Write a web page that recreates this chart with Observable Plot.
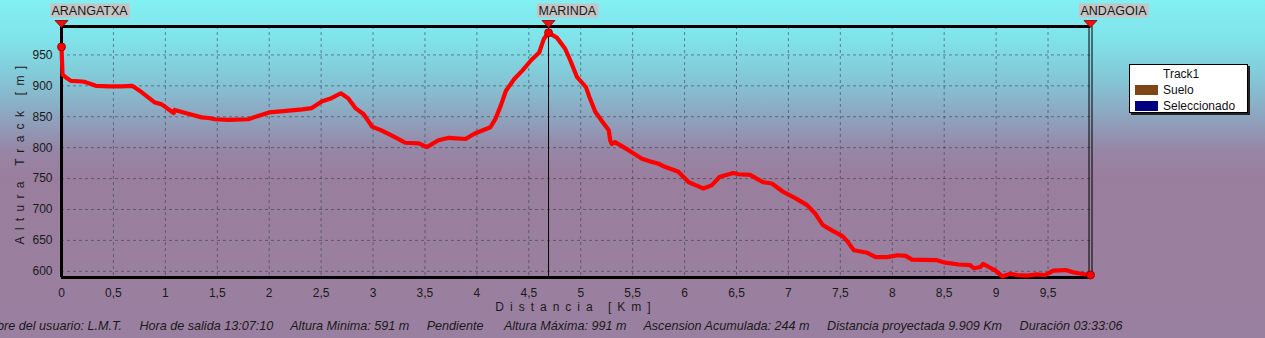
<!DOCTYPE html>
<html>
<head>
<meta charset="utf-8">
<script src="https://cdn.jsdelivr.net/npm/d3@7"></script>
<script src="https://cdn.jsdelivr.net/npm/@observablehq/plot@0.6"></script>
<style>
  html, body { margin: 0; padding: 0; }
  body {
    width: 1265px; height: 338px; overflow: hidden; position: relative;
    font-family: "Liberation Sans", Arial, sans-serif;
    background: linear-gradient(to bottom, #82F0F2 0px, #80E2EA 40px, #84C6D6 80px, #8DA6C0 115px, #9786A6 150px, #9A7E9E 178px, #9A80A0 338px);
  }
  #chart { position: absolute; left: 0; top: 0; }
  #chart svg { overflow: visible; }
  #legend {
    position: absolute; left: 1129px; top: 64px; width: 117px; height: 47px;
    background: #fff; border: 1px solid #000; box-shadow: 2px 2px 0 #222;
    font-size: 12px; color: #111;
  }
  #legend .row { position: absolute; left: 0; height: 16px; line-height: 16px; }
  #legend .sw { position: absolute; left: 5px; top: 3px; width: 23px; height: 10px; }
  #legend .lb { position: absolute; left: 33px; top: 0; white-space: nowrap; }
</style>
</head>
<body>
<div id="chart"></div>
<div id="legend"></div>
<script>
// ---- data ----
const distKm = [0, 0.01, 0.04, 0.09, 0.2, 0.23, 0.33, 0.455, 0.58, 0.68, 0.77, 0.9, 0.965, 1.08, 1.09, 1.22, 1.35, 1.415, 1.48, 1.61, 1.8, 1.87, 2.0, 2.19, 2.32, 2.41, 2.51, 2.6, 2.69, 2.76, 2.83, 2.91, 2.99, 3.08, 3.21, 3.31, 3.44, 3.52, 3.63, 3.73, 3.89, 3.98, 4.13, 4.18, 4.23, 4.28, 4.36, 4.44, 4.52, 4.6, 4.645, 4.69, 4.77, 4.85, 4.9, 4.965, 5.05, 5.09, 5.14, 5.2, 5.27, 5.285, 5.3, 5.33, 5.46, 5.59, 5.685, 5.75, 5.81, 5.94, 6.04, 6.14, 6.18, 6.26, 6.34, 6.47, 6.52, 6.63, 6.76, 6.84, 6.955, 7.07, 7.18, 7.26, 7.33, 7.41, 7.52, 7.57, 7.63, 7.76, 7.84, 7.95, 8.05, 8.13, 8.19, 8.43, 8.51, 8.64, 8.75, 8.785, 8.85, 8.875, 8.93, 8.995, 9.06, 9.14, 9.2, 9.3, 9.39, 9.47, 9.55, 9.67, 9.75, 9.82, 9.909];
const altM = [963, 918, 914, 908, 907, 906, 900, 899, 899, 900, 890, 873, 870, 856, 861, 855, 849, 848, 846, 845, 846, 850, 857, 860, 862, 864, 875, 880, 888, 880, 864, 854, 834, 828, 817, 808, 807, 801, 812, 816, 814, 823, 833, 847, 868, 892, 911, 925, 941, 954, 976, 986, 978, 960, 941, 914, 898, 879, 858, 844, 828, 811, 806, 809, 796, 782, 777, 774, 769, 761, 744, 737, 734, 739, 753, 759, 757, 756, 744, 742, 728, 718, 707, 693, 675, 667, 657, 648, 634, 630, 623, 623, 626, 625, 619, 618, 614, 611, 610, 605, 607, 612, 607, 601, 592, 596, 594, 593, 595, 594, 601, 602, 598, 596, 594];

const wpNames = ["ARANGATXA", "MARINDA", "ANDAGOIA"];
const wpKm = [0, 4.69, 9.909];
const wpAlt = [963, 986, 594];

const xTicks = [0, 0.5, 1, 1.5, 2, 2.5, 3, 3.5, 4, 4.5, 5, 5.5, 6, 6.5, 7, 7.5, 8, 8.5, 9, 9.5];
const yTicks = [600, 650, 700, 750, 800, 850, 900, 950];

const legendLabels = ["Track1", "Suelo", "Seleccionado"];
const legendColors = [null, "#7E4614", "#000080"];

const yTitle = "Altura Track [m]";
const xTitle = "Distancia [Km]";
const caption = "Nombre del usuario: L.M.T.     Hora de salida 13:07:10     Altura Minima: 591 m     Pendiente      Altura Máxima: 991 m     Ascension Acumulada: 244 m     Distancia proyectada 9.909 Km     Duración 03:33:06";

// ---- build ----
const track = distKm.map((d, i) => ({km: d, alt: altM[i]}));
const wps = wpNames.map((n, i) => ({name: n, km: wpKm[i], alt: wpAlt[i]}));
const xMax = 9.909, yMin = 590, yMax = 996;

const flatTri = {
  draw(ctx) { ctx.moveTo(-6.5, -6); ctx.lineTo(6.5, -6); ctx.lineTo(0, 1); ctx.closePath(); }
};

const gridStyle = {stroke: "#2c3a4c", strokeOpacity: 0.55, strokeDasharray: "3,3", strokeWidth: 1};

const chart = Plot.plot({
  width: 1265, height: 338,
  marginLeft: 61, marginRight: 175, marginTop: 26, marginBottom: 61,
  style: {background: "transparent", fontFamily: "'Liberation Sans', Arial, sans-serif", fontSize: "12px", color: "#1a1a1a"},
  x: {domain: [0, xMax], ticks: xTicks, tickSize: 0, tickPadding: 11, tickFormat: d => String(d).replace(".", ","), label: null},
  y: {domain: [yMin, yMax], ticks: yTicks, tickSize: 0, tickPadding: 9, label: null},
  marks: [
    Plot.ruleX(xTicks, {x: d => d, ...gridStyle}),
    Plot.ruleY(yTicks, {y: d => d, ...gridStyle}),
    Plot.ruleY([yMin], {stroke: "#000", strokeWidth: 3}),
    Plot.ruleY([yMax], {stroke: "#000", strokeWidth: 3}),
    Plot.ruleX([0], {stroke: "#000", strokeWidth: 3}),
    Plot.ruleX(wps.slice(1, 2), {x: "km", stroke: "#000", strokeWidth: 1}),
    Plot.ruleX(wps.slice(2), {x: "km", stroke: "#000", strokeWidth: 1, dx: -1.5}),
    Plot.ruleX(wps.slice(2), {x: "km", stroke: "#000", strokeWidth: 1, dx: 1.5}),
    Plot.line(track, {x: "km", y: "alt", stroke: "#ff0000", strokeWidth: 4.2, strokeLinejoin: "round", strokeLinecap: "round"}),
    Plot.dot(wps, {x: "km", y: "alt", r: 4, fill: "#ff0000", stroke: "#8a0000", strokeWidth: 0.8}),
    Plot.dot(wps, {x: "km", y: () => yMax, symbol: flatTri, fill: "#ee1010", stroke: "#8a0000", strokeWidth: 0.8}),
    Plot.text(wps, {x: "km", y: () => yMax, text: "name", textAnchor: "start", dx: -10, dy: -16, fill: "#1a1a1a", fontSize: 12.5}),
    Plot.text([yTitle], {text: d => d, frameAnchor: "left", textAnchor: "middle", dx: -41, rotate: -90, fill: "#1a1a1a", fontSize: 12}),
    Plot.text([xTitle], {text: d => d, frameAnchor: "bottom", textAnchor: "middle", dy: 33, fill: "#1a1a1a", fontSize: 12}),
    Plot.text([caption], {text: d => d, frameAnchor: "bottom-right", dx: 32, dy: 52, textAnchor: "end", fontStyle: "italic", fill: "#1a1a1a", fontSize: 12.6})
  ]
});
document.getElementById("chart").appendChild(chart);

const textGs = chart.querySelectorAll('g[aria-label="text"]');
const ns = "http://www.w3.org/2000/svg";
// grey boxes behind waypoint labels
if (textGs[0]) {
  const labelG = textGs[0];
  const boxG = document.createElementNS(ns, "g");
  labelG.parentNode.insertBefore(boxG, labelG);
  const gtr = labelG.getAttribute("transform");
  if (gtr) boxG.setAttribute("transform", gtr);
  labelG.querySelectorAll("text").forEach(t => {
    const b = t.getBBox();
    const r = document.createElementNS(ns, "rect");
    const tr = t.getAttribute("transform") || "";
    r.setAttribute("x", b.x - 1.5);
    r.setAttribute("y", b.y);
    r.setAttribute("width", b.width + 3);
    r.setAttribute("height", b.height);
    if (tr) r.setAttribute("transform", tr);
    r.setAttribute("fill", "#c4c4c4");
    boxG.appendChild(r);
  });
}
if (textGs[1]) textGs[1].style.letterSpacing = "6.3px";
if (textGs[2]) textGs[2].style.letterSpacing = "6px";
if (textGs[3]) textGs[3].style.whiteSpace = "pre";

// legend
const legend = document.getElementById("legend");
legendLabels.forEach((lab, i) => {
  const row = document.createElement("div");
  row.className = "row";
  row.style.top = (1 + i * 16) + "px";
  if (legendColors[i]) {
    const sw = document.createElement("span");
    sw.className = "sw";
    sw.style.background = legendColors[i];
    row.appendChild(sw);
  }
  const lb = document.createElement("span");
  lb.className = "lb";
  lb.textContent = lab;
  row.appendChild(lb);
  legend.appendChild(row);
});
</script>
</body>
</html>
